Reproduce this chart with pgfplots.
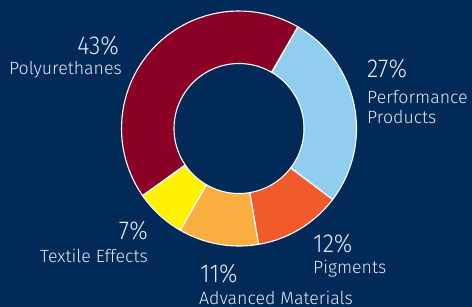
\documentclass[border=0pt]{standalone}
\usepackage{pgfplots}
\pgfplotsset{compat=1.18}
\usepackage{pgfplotstable}
\usepackage{fontspec}
\setmainfont{Fira Sans Light}
\newfontfamily\pctfont[FakeStretch=0.9]{Fira Sans Light}
\definecolor{bgcol}{HTML}{012A58}
\definecolor{txt}{HTML}{E2E9F1}
\definecolor{cPoly}{HTML}{8B0027}
\definecolor{cPerf}{HTML}{91CDEF}
\definecolor{cPig}{HTML}{F15A2B}
\definecolor{cAdv}{HTML}{FBAE40}
\definecolor{cTex}{HTML}{FFF100}

\pgfplotstableread{
name value col
Performance 27 cPerf
Pigments 12 cPig
Advanced 11 cAdv
Textile 7 cTex
Polyurethanes 43 cPoly
}\donutdata

% centre (239,178.5), outer radius 117.5, inner radius 65
\newcommand\slice[3]{%
  \addplot[fill=#3, draw=white, line width=1.1pt, variable=\t,
    samples at={0,2,...,100,100.01,102,...,200}]
  ({239 + ((\t<=100) ? 117.5 : 65)*cos(((\t<=100) ? (#1+(#2-#1)*\t/100) : (#2-(#2-#1)*(\t-100)/100)))},
   {178.5 + ((\t<=100) ? 117.5 : 65)*sin(((\t<=100) ? (#1+(#2-#1)*\t/100) : (#2-(#2-#1)*(\t-100)/100)))}) -- cycle;
}

\begin{document}
\begin{tikzpicture}
\begin{axis}[width=472bp, height=307bp, scale only axis,
  xmin=0, xmax=472, ymin=0, ymax=307, hide axis, clip=false]
\fill[bgcol] (axis cs:0,0) rectangle (axis cs:472,307);
\def\cum{0}
\pgfplotsforeachungrouped \i in {0,...,4}{%
  \pgfplotstablegetelem{\i}{value}\of\donutdata \let\v=\pgfplotsretval
  \pgfplotstablegetelem{\i}{col}\of\donutdata \let\c=\pgfplotsretval
  \pgfmathsetmacro\a{60-3.6*\cum}%
  \pgfmathsetmacro\b{60-3.6*(\cum+\v)}%
  \pgfmathsetmacro\cum{\cum+\v}%
  \edef\doslice{\noexpand\slice{\a}{\b}{\c}}%
  \doslice
}
\tikzset{pct/.style={text=txt, inner sep=0pt, font=\pctfont\fontsize{26}{30}\selectfont},
         lab/.style={text=txt, inner sep=0pt, font=\fontsize{17.8}{20}\selectfont}}
\node[pct, anchor=base east] at (axis cs:119,252.7) {43\%};
\node[lab, anchor=base east] at (axis cs:122,232) {Polyurethanes};
\node[pct, anchor=base west] at (axis cs:367,229) {27\%};
\node[lab, anchor=base west] at (axis cs:367,203.7) {Performance};
\node[lab, anchor=base west] at (axis cs:367,183.7) {Products};
\node[pct, anchor=base east] at (axis cs:148,67) {7\%};
\node[lab, anchor=base east] at (axis cs:148,44.3) {Textile Effects};
\node[pct, anchor=base west] at (axis cs:200,24.7) {11\%};
\node[lab, anchor=base west] at (axis cs:199,3) {Advanced Materials};
\node[pct, anchor=base west] at (axis cs:313,54.3) {12\%};
\node[lab, anchor=base west] at (axis cs:313,33.7) {Pigments};
\end{axis}
\end{tikzpicture}
\end{document}
